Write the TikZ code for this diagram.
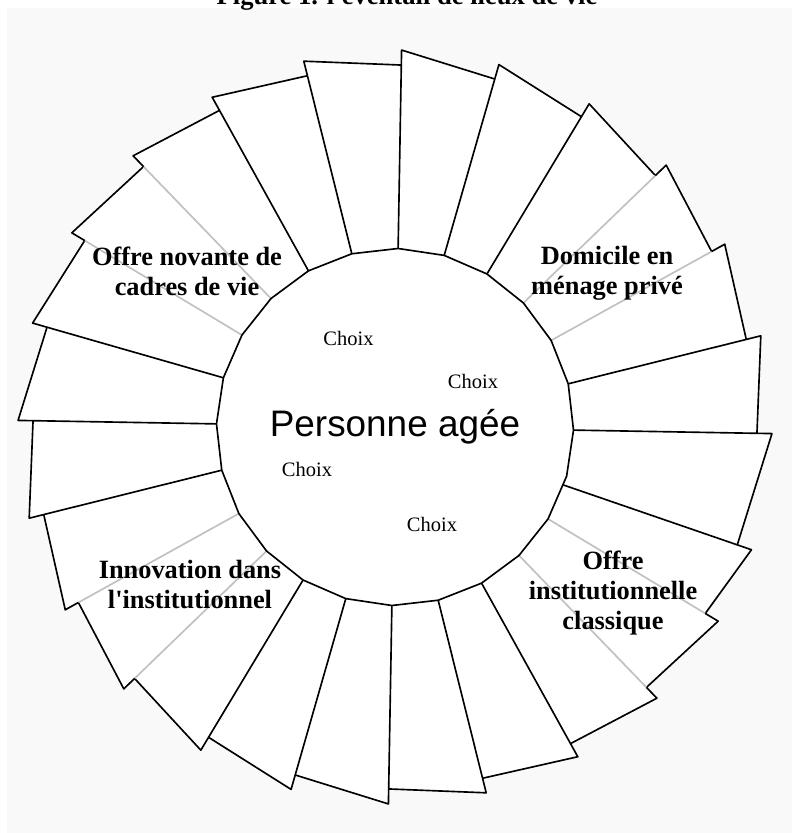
\documentclass[tikz,border=0pt]{standalone}
\usepackage{fontspec}
\setmainfont{Liberation Serif}
\newfontfamily\arialfont{Liberation Sans}
\usetikzlibrary{math}
\usetikzlibrary{shapes}

\begin{document}
\begin{tikzpicture}[
    scale=0.03,
    edge/.style={line width=1.4pt, line join=round},
    choice/.style={anchor=base, font=\fontsize{17.5}{20}\selectfont},
    place/.style={align=center, font=\fontsize{22.5}{25.6}\selectfont\bfseries},
    wheel/.style={regular polygon, regular polygon sides=24, shape border rotate=6.5,
        minimum size=8.16cm, inner sep=0pt, draw, fill=white, line width=1.4pt,
        font=\arialfont\fontsize{31.5}{36}\selectfont}
]
    \definecolor{paper}{RGB}{249, 249, 249}
    \definecolor{softgray}{RGB}{192, 192, 192}
    
    \tikzmath {
        \rIn = 120;
        \rCut = 362;
        \rOut = 377;
    }
    
    \useasboundingbox (-395, -406) rectangle (397, 427);
    \fill[paper] (-388, -406) rectangle (397, 419);
    
    \node[anchor=base, font=\fontsize{22.7}{26}\selectfont\bfseries] (title) at (12, 422) {Figure 1. l\textquotesingle éventail de lieux de vie};
    
    % angle of the blade / angle of the next one / colour of its side
    \def\bladelist{179/164/black, 164/149/black, 149/134/softgray, 134/119/softgray,
        119/104/black, 104/89/black, 89/74/black, 74/59/black, 59/44/black,
        44/29/softgray, 29/14/softgray, 14/-1/black, -1/-19/black, -19/-31/black,
        -31/-46/softgray, -46/-61/softgray, -61/-76/black, -76/-91/black,
        -91/-106/black, -106/-121/black, -121/-136/black, -136/-151/softgray,
        -151/-166/softgray, -166/-181/black}
    
    \foreach \a/\b/\c in \bladelist
    {
        \fill[white] (\a:\rIn) -- (\a:\rOut) -- (\b:\rCut) -- (\b:\rIn) -- cycle;
    }
    
    \foreach \a/\b/\c in \bladelist
    {
        \draw[edge, \c] (\a:\rIn) -- (\a:\rCut);
        \draw[edge] (\a:\rCut) -- (\a:\rOut) -- (\b:\rCut);
    }
    
    \node[wheel] (person) at (0, 0) {Personne agée};
    
    \node[choice] (choice_tl) at (-46.5, 81) {Choix};
    \node[choice] (choice_tr) at (78, 39) {Choix};
    \node[choice] (choice_bl) at (-88, -49) {Choix};
    \node[choice] (choice_br) at (37, -104) {Choix};
    
    \node[place] (label_tl) at (-208, 156) {Offre novante de\\cadres de vie};
    \node[place] (label_tr) at (212, 154) {Domicile en\\ménage privé};
    \node[place] (label_bl) at (-205, -158) {Innovation dans\\l\textquotesingle institutionnel};
    \node[place] (label_br) at (218, -166.5) {Offre\\institutionnelle\\classique};
    
\end{tikzpicture}
\end{document}
